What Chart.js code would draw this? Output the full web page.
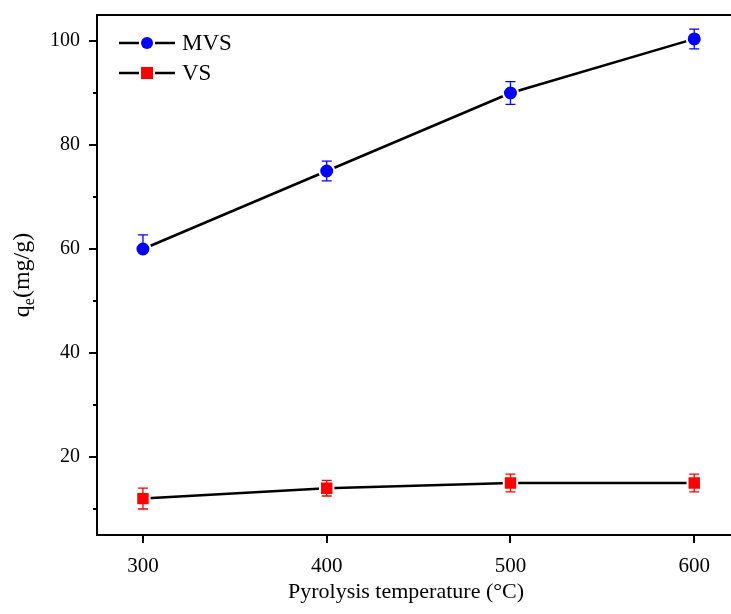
<!DOCTYPE html>
<html>
<head>
<meta charset="utf-8">
<script src="https://cdn.jsdelivr.net/npm/chart.js@4"></script>
<style>
  html, body { margin: 0; padding: 0; background: #fff; }
  #wrap { width: 731px; height: 614px; }
</style>
</head>
<body>
<div id="wrap"><canvas id="c" width="731" height="614"></canvas></div>
<script>
// Adsorption capacity vs. pyrolysis temperature
const temperatures = [300, 400, 500, 600];
const mvsValues   = [60, 75, 90, 100.4];
const mvsErrUp    = [2.7, 1.9, 2.2, 1.9];
const mvsErrDown  = [0, 1.9, 2.2, 1.9];
const vsValues    = [12, 14, 15, 15];
const vsErrUp     = [2.0, 1.5, 1.7, 1.7];
const vsErrDown   = [2.0, 1.5, 1.7, 1.7];
const xTickValues = [300, 400, 500, 600];
const yMajorTicks = [20, 40, 60, 80, 100];
const yMinorTicks = [10, 30, 50, 70, 90];
const seriesNames = ['MVS', 'VS'];

const SERIF = '"Liberation Serif", "Times New Roman", serif';
const BLUE = '#0000ff';
const RED = '#ff0000';

const toPoints = vals => vals.map((v, i) => ({ x: temperatures[i], y: v }));

// Error bars drawn after the datasets
const errorBars = {
  id: 'errorBars',
  afterDatasetsDraw(chart) {
    const { ctx, scales: { x, y } } = chart;
    const sets = [
      { vals: mvsValues, up: mvsErrUp, down: mvsErrDown, color: BLUE },
      { vals: vsValues, up: vsErrUp, down: vsErrDown, color: RED }
    ];
    ctx.save();
    ctx.lineWidth = 1.3;
    sets.forEach(s => {
      ctx.strokeStyle = s.color;
      s.vals.forEach((v, i) => {
        const px = x.getPixelForValue(temperatures[i]);
        const half = 5;
        if (s.up[i] > 0) {
          const top = y.getPixelForValue(v + s.up[i]);
          ctx.beginPath();
          ctx.moveTo(px, y.getPixelForValue(v)); ctx.lineTo(px, top);
          ctx.moveTo(px - half, top); ctx.lineTo(px + half, top);
          ctx.stroke();
        }
        if (s.down[i] > 0) {
          const bot = y.getPixelForValue(v - s.down[i]);
          ctx.beginPath();
          ctx.moveTo(px, y.getPixelForValue(v)); ctx.lineTo(px, bot);
          ctx.moveTo(px - half, bot); ctx.lineTo(px + half, bot);
          ctx.stroke();
        }
      });
    });
    ctx.restore();
  }
};

// Axis frame, tick marks, axis titles and legend
const frame = {
  id: 'frame',
  afterDraw(chart) {
    const { ctx, chartArea: a, scales: { x, y } } = chart;
    ctx.save();
    ctx.strokeStyle = '#000';
    ctx.lineWidth = 2;
    ctx.beginPath();
    ctx.moveTo(a.right + 2, a.top); ctx.lineTo(a.left, a.top);
    ctx.lineTo(a.left, a.bottom); ctx.lineTo(a.right + 2, a.bottom);
    ctx.stroke();

    // x ticks (outward)
    ctx.beginPath();
    xTickValues.forEach(v => {
      const px = Math.round(x.getPixelForValue(v));
      ctx.moveTo(px, a.bottom); ctx.lineTo(px, a.bottom + 8);
    });
    // y major ticks
    yMajorTicks.forEach(v => {
      const py = Math.round(y.getPixelForValue(v));
      ctx.moveTo(a.left, py); ctx.lineTo(a.left - 8, py);
    });
    // y minor ticks
    yMinorTicks.forEach(v => {
      const py = Math.round(y.getPixelForValue(v));
      ctx.moveTo(a.left, py); ctx.lineTo(a.left - 4, py);
    });
    ctx.stroke();

    // x axis title
    ctx.fillStyle = '#000';
    ctx.font = '22px ' + SERIF;
    ctx.textAlign = 'center';
    ctx.textBaseline = 'alphabetic';
    ctx.fillText('Pyrolysis temperature (\u00B0C)', 406, 598);

    // y axis title with subscript
    ctx.save();
    ctx.translate(29, 275);
    ctx.rotate(-Math.PI / 2);
    const big = '24px ' + SERIF, small = '16px ' + SERIF;
    ctx.font = big; const wq = ctx.measureText('q').width;
    ctx.font = small; const we = ctx.measureText('e').width;
    ctx.font = big; const wr = ctx.measureText('(mg/g)').width;
    let sx = -(wq + we + wr) / 2;
    ctx.textAlign = 'left';
    ctx.font = big; ctx.fillText('q', sx, 0); sx += wq;
    ctx.font = small; ctx.fillText('e', sx, 5); sx += we;
    ctx.font = big; ctx.fillText('(mg/g)', sx, 0);
    ctx.restore();

    // legend
    const rows = [
      { label: seriesNames[0], color: BLUE, shape: 'circle', y: 43 },
      { label: seriesNames[1], color: RED, shape: 'rect', y: 73 }
    ];
    rows.forEach(r => {
      ctx.strokeStyle = '#000';
      ctx.lineWidth = 2.5;
      ctx.beginPath();
      ctx.moveTo(119, r.y); ctx.lineTo(175, r.y);
      ctx.stroke();
      ctx.fillStyle = '#fff';
      ctx.fillRect(139, r.y - 8, 16, 16);
      ctx.fillStyle = r.color;
      if (r.shape === 'circle') {
        ctx.beginPath(); ctx.arc(147, r.y, 6, 0, Math.PI * 2); ctx.fill();
      } else {
        ctx.fillRect(141, r.y - 6, 12, 12);
      }
      ctx.fillStyle = '#000';
      ctx.font = '23px ' + SERIF;
      ctx.textAlign = 'left';
      ctx.textBaseline = 'middle';
      ctx.fillText(r.label, 182, r.y + 1);
    });
    ctx.restore();
  }
};

new Chart(document.getElementById('c'), {
  type: 'line',
  data: {
    datasets: [
      {
        label: seriesNames[0],
        data: toPoints(mvsValues),
        borderColor: '#000',
        borderWidth: 2.5,
        pointStyle: 'circle',
        pointRadius: 7.5,
        pointBackgroundColor: BLUE,
        pointBorderColor: '#fff',
        pointBorderWidth: 2,
        tension: 0
      },
      {
        label: seriesNames[1],
        data: toPoints(vsValues),
        borderColor: '#000',
        borderWidth: 2.5,
        pointStyle: 'rect',
        pointRadius: 9.5,
        pointBackgroundColor: RED,
        pointBorderColor: '#fff',
        pointBorderWidth: 2,
        tension: 0
      }
    ]
  },
  options: {
    responsive: false,
    animation: false,
    devicePixelRatio: 1,
    layout: { autoPadding: false, padding: { top: 15, right: 0, left: 0, bottom: 0 } },
    plugins: { legend: { display: false }, tooltip: { enabled: false } },
    scales: {
      x: {
        type: 'linear',
        min: 275,
        max: 620,
        grid: { display: false, drawTicks: false, tickLength: 0 },
        border: { display: false },
        afterBuildTicks: s => { s.ticks = xTickValues.map(v => ({ value: v })); },
        afterFit: s => { s.height = 79; s.paddingLeft = 0; s.paddingRight = 0; },
        ticks: {
          padding: 19,
          color: '#000',
          font: { family: SERIF, size: 21 },
          callback: v => String(v)
        }
      },
      y: {
        type: 'linear',
        min: 5,
        max: 105,
        grid: { display: false, drawTicks: false, tickLength: 0 },
        border: { display: false },
        afterBuildTicks: s => { s.ticks = yMajorTicks.map(v => ({ value: v })); },
        afterFit: s => { s.width = 97; s.paddingTop = 0; s.paddingBottom = 0; },
        ticks: {
          padding: 17,
          color: '#000',
          font: { family: SERIF, size: 20 },
          callback: v => String(v)
        }
      }
    }
  },
  plugins: [errorBars, frame]
});
</script>
</body>
</html>
